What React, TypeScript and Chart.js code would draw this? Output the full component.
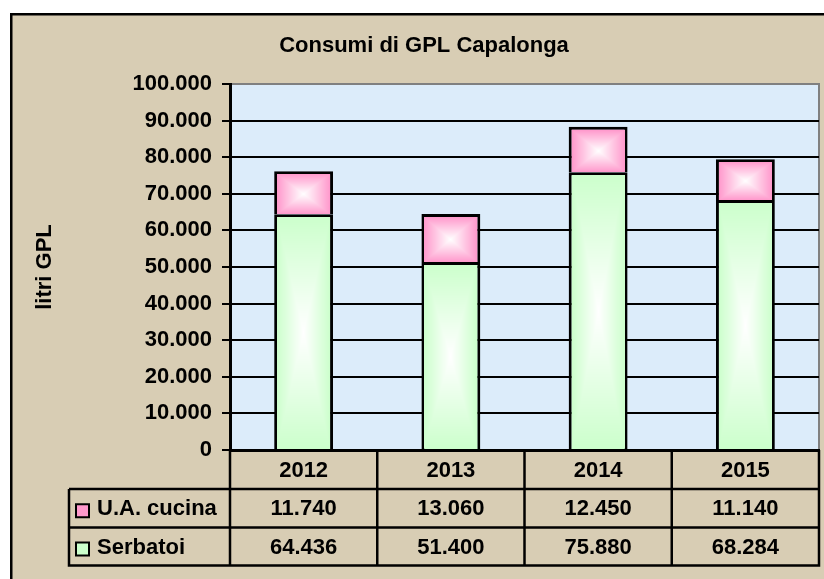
import React, { useEffect, useRef } from 'react';
import { Chart, registerables } from 'chart.js';

Chart.register(...registerables);

const TITLE = 'Consumi di GPL Capalonga';
const Y_TITLE = 'litri GPL';
const years = ['2012', '2013', '2014', '2015'];
const serbatoi = [64436, 51400, 75880, 68284];
const cucina = [11740, 13060, 12450, 11140];
const SERIES_CUCINA = 'U.A. cucina';
const SERIES_SERBATOI = 'Serbatoi';
const Y_MIN = 0;
const Y_MAX = 100000;
const Y_STEP = 10000;

const FONT = '"Liberation Sans", Arial, Helvetica, sans-serif';
const GREEN = '#ccffcc';
const PINK = '#ff99cc';
const BEIGE = '#d8cdb4';
const PLOT_BG = '#dcecfa';

const fmt = (v: number) => String(Math.round(v)).replace(/\B(?=(\d{3})+(?!\d))/g, '.');

function hexToRgb(h: string) {
  const s = h.replace('#', '');
  return [parseInt(s.slice(0, 2), 16), parseInt(s.slice(2, 4), 16), parseInt(s.slice(4, 6), 16)];
}

function fillCenterGradient(ctx: CanvasRenderingContext2D, l: number, t: number, r: number, b: number, color: string) {
  const x0 = Math.round(l);
  const y0 = Math.round(t);
  const w = Math.round(r) - x0;
  const h = Math.round(b) - y0;
  if (w <= 0 || h <= 0) return;
  const [cr, cg, cb] = hexToRgb(color);
  const img = ctx.getImageData(x0, y0, w, h);
  const d = img.data;
  const hw = w / 2;
  const hh = h / 2;
  for (let j = 0; j < h; j++) {
    const dy = Math.abs(j + 0.5 - hh) / hh;
    for (let i = 0; i < w; i++) {
      const dx = Math.abs(i + 0.5 - hw) / hw;
      const tt = Math.max(dx, dy);
      const k = Math.min(1, tt);
      const idx = (j * w + i) * 4;
      d[idx] = Math.round(255 + (cr - 255) * k);
      d[idx + 1] = Math.round(255 + (cg - 255) * k);
      d[idx + 2] = Math.round(255 + (cb - 255) * k);
      d[idx + 3] = 255;
    }
  }
  ctx.putImageData(img, x0, y0);
}

const backgroundPlugin = {
  id: 'bgPlugin',
  beforeDraw(chart: any) {
    const { ctx, width, height, chartArea: a } = chart;
    ctx.save();
    ctx.fillStyle = '#ffffff';
    ctx.fillRect(0, 0, width, height);
    ctx.fillStyle = BEIGE;
    ctx.fillRect(10, 13, width - 10, height - 13);
    ctx.strokeStyle = '#000';
    ctx.lineWidth = 2.5;
    ctx.beginPath();
    ctx.moveTo(11.25, height);
    ctx.lineTo(11.25, 14.25);
    ctx.lineTo(width, 14.25);
    ctx.stroke();
    ctx.fillStyle = PLOT_BG;
    ctx.fillRect(a.left, a.top, a.right - a.left, a.bottom - a.top);
    ctx.strokeStyle = '#808080';
    ctx.lineWidth = 2;
    ctx.beginPath();
    ctx.moveTo(a.left, a.top);
    ctx.lineTo(a.right, a.top);
    ctx.lineTo(a.right, a.bottom);
    ctx.stroke();
    ctx.restore();
  },
};

const gradientPlugin = {
  id: 'gradPlugin',
  afterDatasetsDraw(chart: any) {
    const { ctx } = chart;
    chart.data.datasets.forEach((ds: any, di: number) => {
      const meta = chart.getDatasetMeta(di);
      const bw = ds.borderWidth || 0;
      meta.data.forEach((el: any) => {
        const { x, y, base, width } = el.getProps(['x', 'y', 'base', 'width'], true);
        const l = x - width / 2 + bw;
        const r = x + width / 2 - bw;
        const t = Math.min(y, base) + bw;
        const b = Math.max(y, base) - (di === 0 ? 1.5 : 0);
        if (r > l && b > t) fillCenterGradient(ctx, l, t, r, b, ds.backgroundColor);
      });
    });
  },
};

const titleTablePlugin = {
  id: 'titleTable',
  afterDraw(chart: any) {
    const { ctx, chartArea: a } = chart;
    const xs = chart.scales.x;
    ctx.save();
    ctx.fillStyle = '#000';
    ctx.font = `bold 22px ${FONT}`;
    ctx.textAlign = 'center';
    ctx.textBaseline = 'middle';
    ctx.fillText(TITLE, 424, 46);

    const n = years.length;
    const centers = years.map((_, i) => xs.getPixelForValue(i));
    const half = n > 1 ? (centers[1] - centers[0]) / 2 : (a.right - a.left) / 2;
    const edges = [centers[0] - half, ...centers.map((c) => c + half)];
    const r0 = a.bottom;
    const r1 = a.bottom + 39;
    const r2 = a.bottom + 77.5;
    const r3 = a.bottom + 115.5;
    const legL = 69;

    ctx.strokeStyle = '#000';
    ctx.lineWidth = 2.5;
    ctx.beginPath();
    [r1, r2, r3].forEach((ry) => {
      ctx.moveTo(legL, ry);
      ctx.lineTo(edges[n], ry);
    });
    ctx.moveTo(legL, r1);
    ctx.lineTo(legL, r3 + 1.25);
    edges.forEach((ex) => {
      ctx.moveTo(ex, r0);
      ctx.lineTo(ex, r3 + 1.25);
    });
    ctx.stroke();

    ctx.fillStyle = '#000';
    ctx.textAlign = 'center';
    years.forEach((yr, i) => ctx.fillText(yr, centers[i], (r0 + r1) / 2 + 1));

    const rows = [
      { name: SERIES_CUCINA, color: PINK, values: cucina, top: r1, bottom: r2 },
      { name: SERIES_SERBATOI, color: GREEN, values: serbatoi, top: r2, bottom: r3 },
    ];
    rows.forEach((row) => {
      const cy = (row.top + row.bottom) / 2;
      ctx.fillStyle = row.color;
      ctx.fillRect(76, cy - 4, 13, 13);
      ctx.lineWidth = 2;
      ctx.strokeStyle = '#000';
      ctx.strokeRect(76, cy - 4, 13, 13);
      ctx.fillStyle = '#000';
      ctx.textAlign = 'left';
      ctx.fillText(row.name, 97, cy + 1);
      ctx.textAlign = 'center';
      row.values.forEach((v, i) => ctx.fillText(fmt(v), centers[i], cy + 1));
    });
    ctx.restore();
  },
};

export default function App() {
  const ref = useRef<HTMLCanvasElement | null>(null);
  useEffect(() => {
    document.body.style.margin = '0';
    const canvas = ref.current;
    if (!canvas) return;
    const chart = new Chart(canvas, {
      type: 'bar',
      data: {
        labels: years,
        datasets: [
          {
            label: SERIES_SERBATOI,
            data: serbatoi,
            backgroundColor: GREEN,
            borderColor: '#000',
            borderWidth: 3,
            stack: 'tot',
          },
          {
            label: SERIES_CUCINA,
            data: cucina,
            backgroundColor: PINK,
            borderColor: '#000',
            borderWidth: 3,
            stack: 'tot',
          },
        ],
      },
      options: {
        responsive: false,
        animation: false,
        devicePixelRatio: 1,
        layout: { padding: { left: 10, top: 84, right: 5, bottom: 129 } },
        datasets: { bar: { barPercentage: 0.4, categoryPercentage: 1 } },
        plugins: {
          legend: { display: false },
          tooltip: { enabled: false },
          title: { display: false },
        },
        scales: {
          x: {
            stacked: true,
            grid: { display: true, drawOnChartArea: false, drawTicks: false, color: 'rgba(0,0,0,0)' },
            border: { display: true, color: '#000', width: 3 },
            ticks: { display: false },
            afterFit: (s: any) => {
              s.height = 0;
            },
          },
          y: {
            stacked: true,
            min: Y_MIN,
            max: Y_MAX,
            ticks: {
              stepSize: Y_STEP,
              color: '#000',
              padding: 10,
              font: { family: FONT, size: 22, weight: 'bold' },
              callback: (v: any) => fmt(Number(v)),
            },
            grid: {
              color: (c: any) => (c.tick && c.tick.value === Y_MAX ? '#808080' : '#000'),
              tickColor: '#000',
              lineWidth: 2,
              tickLength: 8,
            },
            border: { display: true, color: '#000', width: 3 },
            title: {
              display: true,
              text: Y_TITLE,
              color: '#000',
              font: { family: FONT, size: 22, weight: 'bold' },
              padding: { top: 21.8, bottom: 0 },
            },
            afterFit: (s: any) => {
              s.width = 220;
            },
          },
        },
      },
      plugins: [backgroundPlugin, gradientPlugin, titleTablePlugin],
    });
    return () => chart.destroy();
  }, []);
  return <canvas ref={ref} width={824} height={579} style={{ display: 'block' }} />;
}
